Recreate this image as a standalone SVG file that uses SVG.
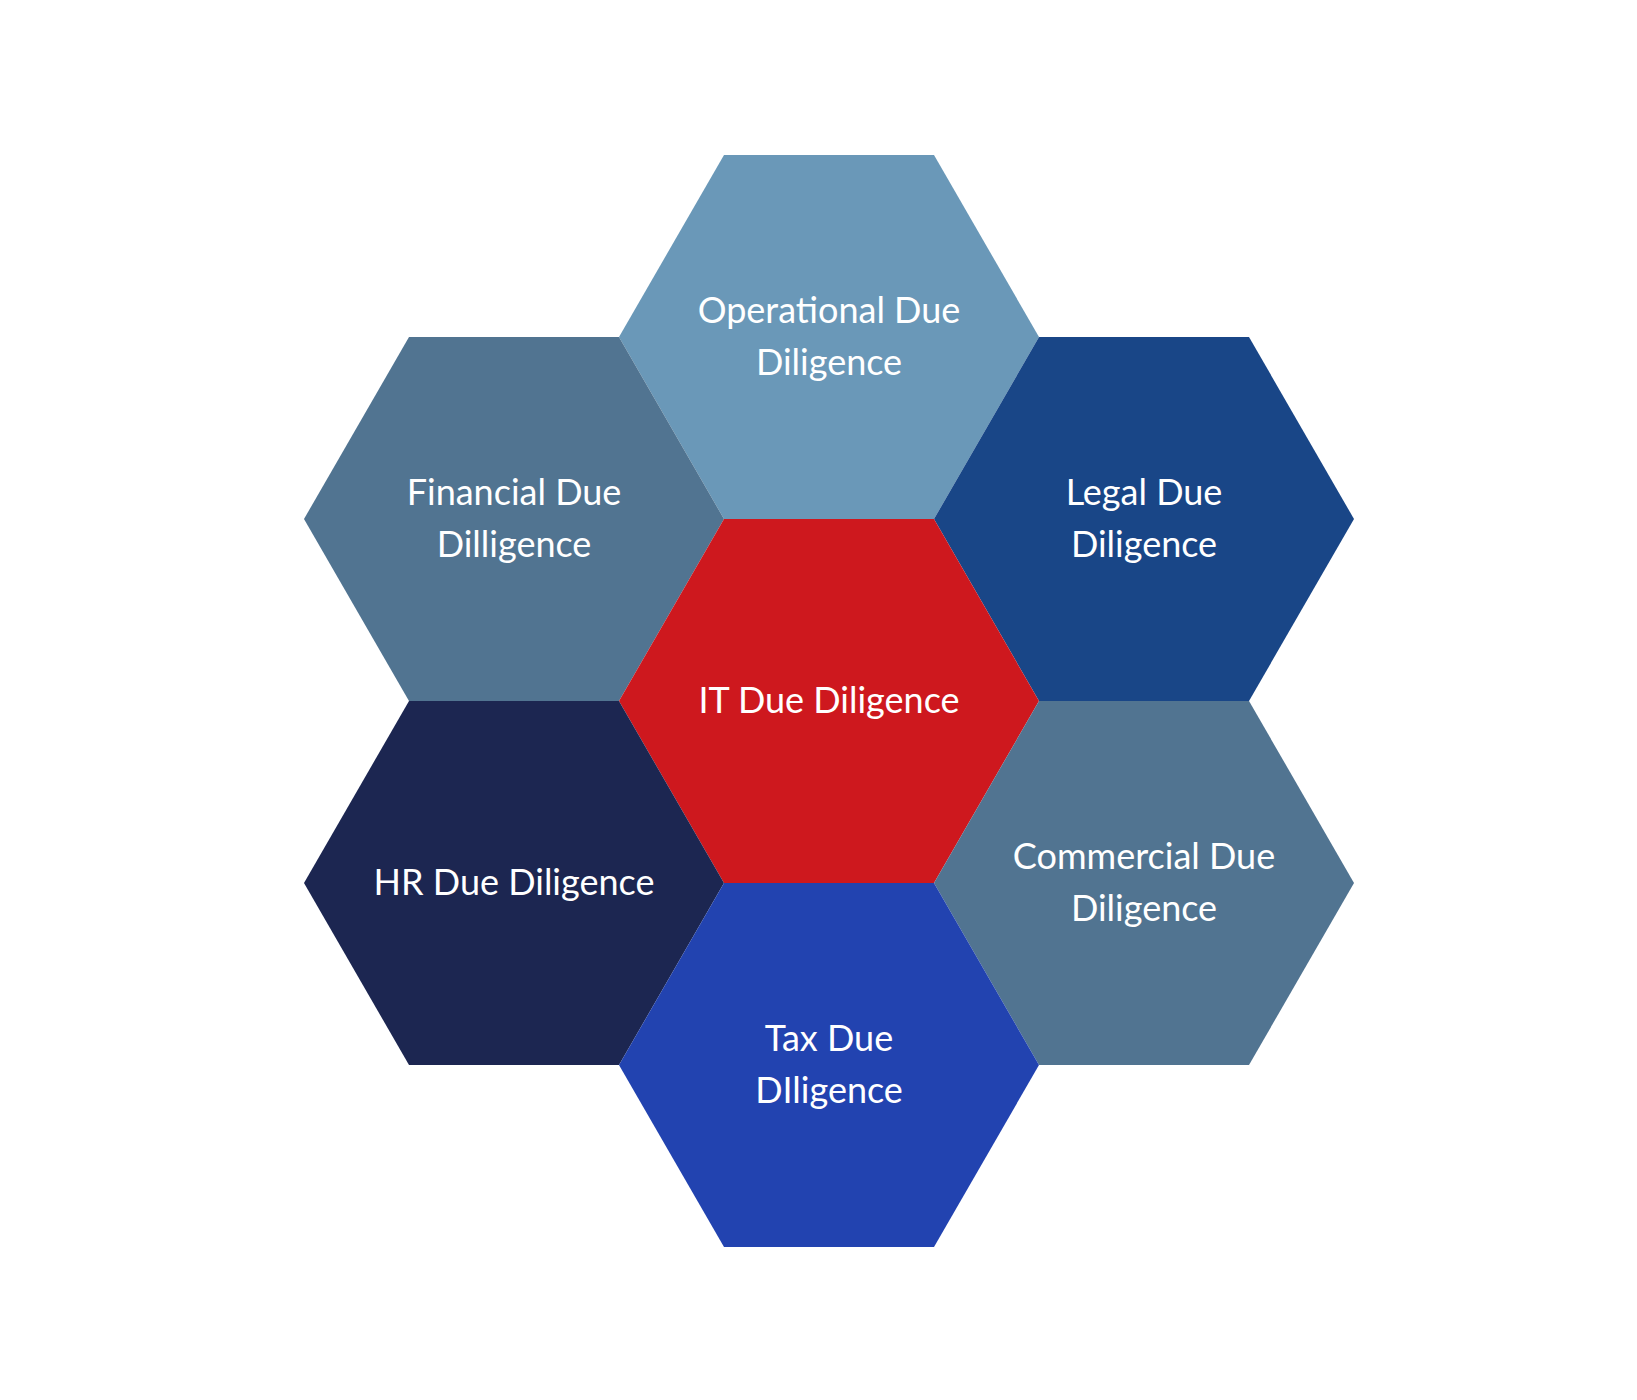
<svg xmlns="http://www.w3.org/2000/svg" width="1637" height="1400" viewBox="0 0 1637 1400">
<defs>
<style>
text{font-family:Lato,"Liberation Sans",sans-serif;font-size:36px;fill:#ffffff;text-anchor:middle}
</style>
<polygon id="hex" points="-210,0 -105,-182 105,-182 210,0 105,182 -105,182"/>
</defs>
<rect width="1637" height="1400" fill="#ffffff"/>
<g id="operational" transform="translate(829,337)"><use href="#hex" fill="#6A98B8"/><text y="-14">Operational Due</text><text y="38">Diligence</text></g>
<g id="financial" transform="translate(514,519)"><use href="#hex" fill="#517491"/><text y="-14">Financial Due</text><text y="38">Dilligence</text></g>
<g id="legal" transform="translate(1144,519)"><use href="#hex" fill="#194687"/><text y="-14">Legal Due</text><text y="38">Diligence</text></g>
<g id="it" transform="translate(829,701)"><use href="#hex" fill="#CE181E"/><text y="12">IT Due Diligence</text></g>
<g id="hr" transform="translate(514,883)"><use href="#hex" fill="#1C2651"/><text y="12">HR Due Diligence</text></g>
<g id="commercial" transform="translate(1144,883)"><use href="#hex" fill="#517491"/><text y="-14">Commercial Due</text><text y="38">Diligence</text></g>
<g id="tax" transform="translate(829,1065)"><use href="#hex" fill="#2243B0"/><text y="-14">Tax Due</text><text y="38">DIligence</text></g>
<g id="connectors"/>
</svg>
